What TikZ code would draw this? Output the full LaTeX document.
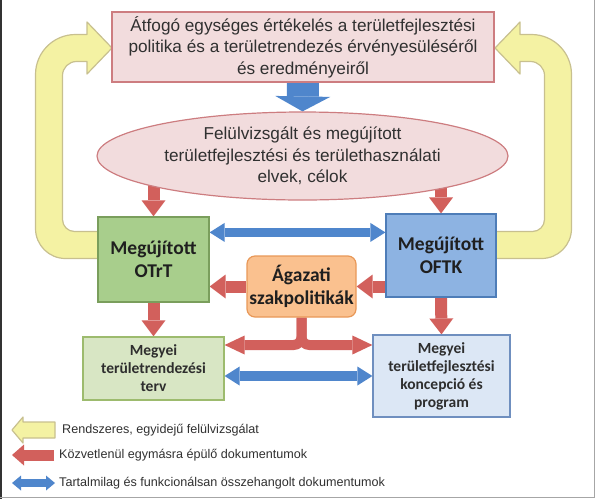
\documentclass[tikz,border=0pt]{standalone}
\usepackage{fontspec}
\setmainfont{Liberation Sans}
\newfontfamily\carlito{Carlito}
\usetikzlibrary{arrows.meta,shapes.geometric,backgrounds,calc}

\definecolor{szoveg}{RGB}{48,48,48}
\definecolor{rozsa}{RGB}{242,220,221}
\definecolor{rozsa_keret}{RGB}{205,125,128}
\definecolor{zold}{RGB}{168,206,140}
\definecolor{zold_keret}{RGB}{122,158,92}
\definecolor{vzold}{RGB}{216,230,196}
\definecolor{vzold_keret}{RGB}{157,187,110}
\definecolor{kek}{RGB}{141,179,226}
\definecolor{kek_keret}{RGB}{78,125,184}
\definecolor{vkek}{RGB}{220,231,245}
\definecolor{vkek_keret}{RGB}{111,143,191}
\definecolor{narancs}{RGB}{250,193,143}
\definecolor{narancs_keret}{RGB}{232,152,88}
\definecolor{piros}{RGB}{210,96,92}
\definecolor{nyilkek}{RGB}{79,134,204}
\definecolor{sarga}{RGB}{244,242,163}
\definecolor{sarga_keret}{RGB}{200,192,143}

\begin{document}
\begin{tikzpicture}[x=1pt,y=-1pt]

\useasboundingbox (0,0) rectangle (596,499);

\tikzset{
    doboz/.style={
        draw, line width=1.2pt, align=center, inner sep=0pt, text=szoveg
    },
    nagybetu/.style={font=\fontsize{17.2}{21.5}\selectfont},
    vastag/.style={font=\carlito\bfseries\fontsize{19.5}{23}\selectfont, text=black!88},
    kisvastag/.style={font=\carlito\bfseries\fontsize{15.5}{18}\selectfont, text=black!82},
    jelmagyarazat/.style={font=\fontsize{12.6}{14}\selectfont, text=szoveg, anchor=west, inner sep=0pt}
}

\tikzset{
    nyil_piros/.style={
        draw=piros, line width=12pt,
        -{Triangle[width=24pt,length=16pt,line width=0pt]}
    },
    nyil_kek/.style={
        draw=nyilkek, line width=9pt,
        {Triangle[width=19pt,length=15pt,line width=0pt]}-{Triangle[width=19pt,length=15pt,line width=0pt]}
    },
    nyil_sarga/.style={fill=sarga, draw=sarga_keret, line width=1.2pt, line join=round}
}

% Sarga visszacsatolo nyilak
\draw[nyil_sarga] (120,231.5) -- (74.5,231.5)
    .. controls (67.9,231.5) and (62.5,226.1) .. (62.5,219.5) -- (62.5,75.5)
    .. controls (62.5,67.8) and (68.8,61.5) .. (76.5,61.5) -- (87,61.5) -- (87,74)
    -- (112,48) -- (87,22) -- (87,34.5) -- (75.5,34.5)
    .. controls (53.4,34.5) and (35.5,52.4) .. (35.5,74.5) -- (35.5,228.5)
    .. controls (35.5,245.1) and (48.9,258.5) .. (65.5,258.5) -- (120,258.5) -- cycle;
\begin{scope}[xshift=607pt, xscale=-1]
\draw[nyil_sarga] (120,231.5) -- (74.5,231.5)
    .. controls (67.9,231.5) and (62.5,226.1) .. (62.5,219.5) -- (62.5,75.5)
    .. controls (62.5,67.8) and (68.8,61.5) .. (76.5,61.5) -- (87,61.5) -- (87,74)
    -- (112,48) -- (87,22) -- (87,34.5) -- (75.5,34.5)
    .. controls (53.4,34.5) and (35.5,52.4) .. (35.5,74.5) -- (35.5,228.5)
    .. controls (35.5,245.1) and (48.9,258.5) .. (65.5,258.5) -- (120,258.5) -- cycle;
\end{scope}

% Dobozok
\node[doboz, nagybetu, draw=rozsa_keret, fill=rozsa, minimum width=382pt, minimum height=70pt] (felso) at (303,47)
    {Átfogó egységes értékelés a területfejlesztési\\politika és a területrendezés érvényesüléséről\\és eredményeiről};
\node[doboz, nagybetu, ellipse, draw=rozsa_keret, fill=rozsa, minimum width=411pt, minimum height=88pt] (elvek) at (302.5,156)
    {Felülvizsgált és megújított\\területfejlesztési és területhasználati\\elvek, célok};
\node[doboz, vastag, draw=zold_keret, fill=zold, minimum width=111pt, minimum height=85pt] (otrt) at (153.5,259.5)
    {Megújított\\OTrT};
\node[doboz, vastag, draw=kek_keret, fill=kek, minimum width=110pt, minimum height=83pt] (oftk) at (441,255.5)
    {Megújított\\OFTK};
\node[doboz, vastag, draw=narancs_keret, fill=narancs, rounded corners=8pt, minimum width=109pt, minimum height=61pt] (agazati) at (301.5,286.5)
    {Ágazati\\szakpolitikák};
\node[doboz, kisvastag, draw=vzold_keret, fill=vzold, minimum width=141pt, minimum height=63pt] (mterv) at (153.5,368.5)
    {Megyei\\területrendezési\\terv};
\node[doboz, kisvastag, draw=vkek_keret, fill=vkek, minimum width=137pt, minimum height=82pt] (mkonc) at (441.5,376)
    {Megyei\\területfejlesztési\\koncepció és\\program};

\coordinate (elag) at (300,345);
\coordinate (fent) at ($(otrt.north east)+(0,16)$);

% Nyilak
\begin{scope}[on background layer]
\draw[draw=nyilkek, line width=32pt, -{Triangle[width=55pt,length=15pt,line width=0pt]}] (felso.south) -- (elvek.north);
\draw[nyil_piros] (otrt.north |- elvek.center) -- (otrt.north);
\draw[nyil_piros] (oftk.north |- elvek.center) -- (oftk.north);
\draw[nyil_kek] (fent) -- (fent -| oftk.west);
\draw[nyil_piros] (agazati.west) -- (agazati.west -| otrt.east);
\draw[nyil_piros] (agazati.east -| oftk.west) -- (agazati.east);
\draw[nyil_piros] (otrt.south) -- (mterv.north);
\draw[nyil_piros] (oftk.south) -- (mkonc.north);
\draw[nyil_piros, line width=10pt, rounded corners=8pt, -{Triangle[width=19pt,length=20pt,line width=0pt]}] (agazati.south) |- (elag -| mterv.east);
\draw[nyil_piros, line width=10pt, rounded corners=8pt, -{Triangle[width=19pt,length=20pt,line width=0pt]}] (agazati.south) |- (elag -| mkonc.west);
\draw[nyil_kek, line width=10pt] (mterv.east |- mkonc.west) -- (mkonc.west);
\end{scope}

% Jelmagyarazat
\draw[nyil_sarga] (12,430) -- (23,417) -- (23,422) -- (55,422) -- (55,438) -- (23,438) -- (23,443) -- cycle;
\node[jelmagyarazat] (j1) at (62,430) {Rendszeres, egyidejű felülvizsgálat};
\coordinate (p1) at (54,455);
\coordinate (p2) at (12,455);
\draw[nyil_piros, line width=11pt, -{Triangle[width=21pt,length=12pt,line width=0pt]}] (p1) -- (p2);
\node[jelmagyarazat] (j2) at (59,455) {Közvetlenül egymásra épülő dokumentumok};
\coordinate (k1) at (12,483);
\coordinate (k2) at (55,483);
\draw[nyil_kek, line width=8pt, {Triangle[width=15pt,length=9pt,line width=0pt]}-{Triangle[width=15pt,length=9pt,line width=0pt]}] (k1) -- (k2);
\node[jelmagyarazat] (j3) at (59,483) {Tartalmilag és funkcionálsan összehangolt dokumentumok};

% Keret
\draw[line width=2pt, black!80] (1,0) -- (1,499);
\draw[line width=1.2pt, gray!70] (0,497.5) -- (594.5,497.5) -- (594.5,0);

\end{tikzpicture}
\end{document}
